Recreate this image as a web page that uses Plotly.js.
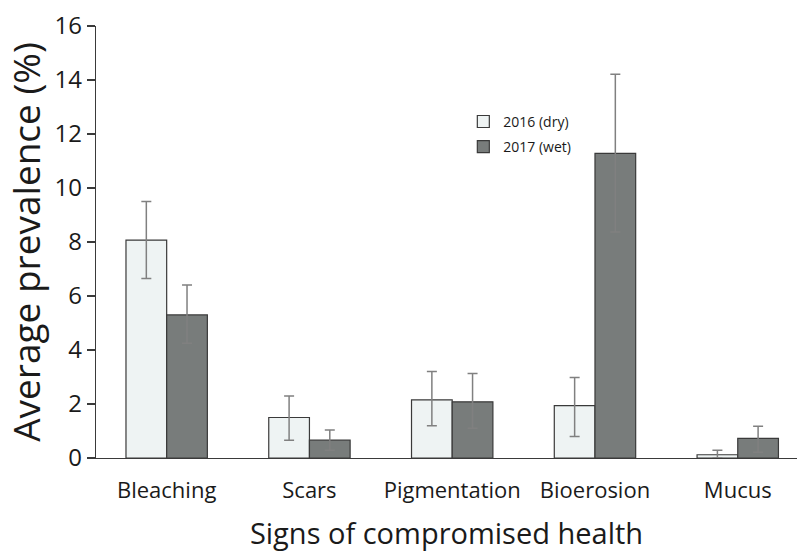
<!DOCTYPE html>
<html>
<head>
<meta charset="utf-8">
<script src="https://cdn.plot.ly/plotly-3.0.1.min.js"></script>
<style>html,body{margin:0;padding:0;background:#fff;}#chart{width:797px;height:552px;}</style>
</head>
<body>
<div id="chart"></div>
<script>
var categories = ["Bleaching", "Scars", "Pigmentation", "Bioerosion", "Mucus"];
var seriesNames = ["2016 (dry)", "2017 (wet)"];
var dryValues = [8.07, 1.50, 2.15, 1.94, 0.12];
var dryErrUp = [1.43, 0.80, 1.05, 1.04, 0.17];
var dryErrDown = [1.42, 0.84, 0.96, 1.14, 0.12];
var wetValues = [5.30, 0.66, 2.08, 11.28, 0.73];
var wetErrUp = [1.11, 0.38, 1.05, 2.93, 0.45];
var wetErrDown = [1.05, 0.37, 0.98, 2.91, 0.52];
var yTicks = [0, 2, 4, 6, 8, 10, 12, 14, 16];

var FONT = "Open Sans, sans-serif";
function errStyle(up, down) {
  return {type: "data", symmetric: false, array: up, arrayminus: down,
          color: "#808080", thickness: 1.5, width: 5};
}
var traces = [
  {type: "bar", name: seriesNames[0], legendgroup: "dry", x: categories, y: dryValues,
   marker: {color: "#eef3f3", line: {color: "#3a3a3a", width: 1.2}},
   error_y: errStyle(dryErrUp, dryErrDown)},
  {type: "bar", name: seriesNames[1], legendgroup: "wet", x: categories, y: wetValues,
   marker: {color: "#787c7b", line: {color: "#3a3a3a", width: 1.2}},
   error_y: errStyle(wetErrUp, wetErrDown)}
];
var layout = {
  width: 797, height: 552,
  margin: {l: 96, r: 0, t: 26, b: 94},
  paper_bgcolor: "#fff", plot_bgcolor: "#fff",
  font: {family: FONT, color: "#1a1a1a"},
  barmode: "group", bargap: 0.43, bargroupgap: 0,
  showlegend: true,
  legend: {x: 0.524, y: 0.815, xanchor: "left", yanchor: "top",
           font: {family: FONT, size: 14, color: "#1a1a1a"},
           bgcolor: "rgba(0,0,0,0)", itemwidth: 30,
           traceorder: "grouped", tracegroupgap: 4},
  xaxis: {
    type: "category", range: [-0.495, 4.415],
    showline: true, linecolor: "#3a3a3a", linewidth: 1.2,
    ticks: "", showgrid: false, zeroline: false,
    ticklabelstandoff: 12,
    tickfont: {family: FONT, size: 22, color: "#1a1a1a"},
    title: {text: "Signs of compromised health", font: {family: FONT, size: 29, color: "#1a1a1a"}, standoff: 24}
  },
  yaxis: {
    range: [0, 16], tickvals: yTicks, ticktext: yTicks.map(String),
    showline: true, linecolor: "#3a3a3a", linewidth: 1.2,
    ticks: "outside", ticklen: 8, tickcolor: "#3a3a3a", tickwidth: 1.2,
    showgrid: false, zeroline: false,
    tickfont: {family: FONT, size: 24, color: "#1a1a1a"},
    title: {text: "Average prevalence (%)", font: {family: FONT, size: 37, color: "#1a1a1a"}, standoff: 8}
  }
};
Plotly.newPlot("chart", traces, layout, {displayModeBar: false, staticPlot: true});
</script>
</body>
</html>
